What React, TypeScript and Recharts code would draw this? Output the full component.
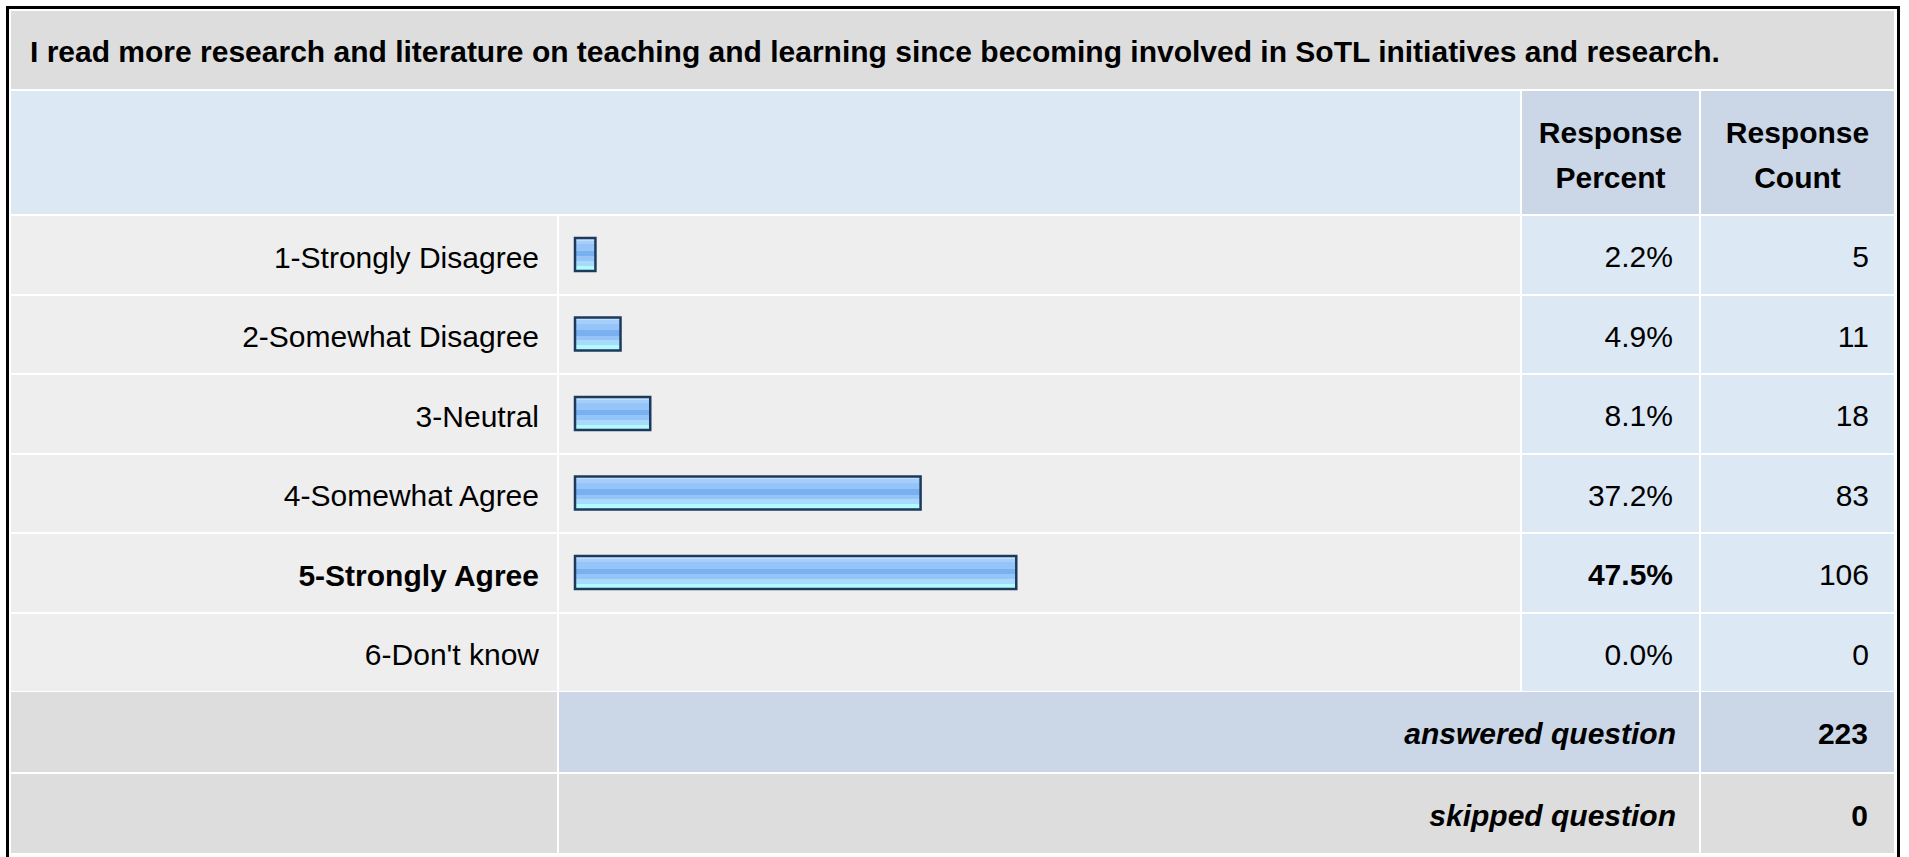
import React from 'react';
import { BarChart, Bar, XAxis, YAxis } from 'recharts';

const questionTitle =
  'I read more research and literature on teaching and learning since becoming involved in SoTL initiatives and research.';
const categories = [
  '1-Strongly Disagree',
  '2-Somewhat Disagree',
  '3-Neutral',
  '4-Somewhat Agree',
  '5-Strongly Agree',
  "6-Don't know",
];
const percents = [2.2, 4.9, 8.1, 37.2, 47.5, 0.0];
const counts = [5, 11, 18, 83, 106, 0];
const answeredCount = 223;
const skippedCount = 0;

const data = categories.map((name, i) => ({ name, percent: percents[i], count: counts[i] }));
const topIndex = percents.indexOf(Math.max(...percents));

const FONT = '"Liberation Sans", Arial, Helvetica, sans-serif';

// column edges and row geometry (px)
const COL = { c0: 11, c1: 559, c2: 1522, c3: 1701, end: 1894 };
const ROW_TOP = 216;
const ROW_STEP = 79.5;
const ROW_H = 77.5;

const GRAY = '#dddddd';
const LIGHT = '#eeeeee';
const BLUE = '#dde8f5';
const BLUE_DARK = '#cbd7e6';

function Cell({
  left,
  right,
  top,
  height,
  bg,
  children,
  align = 'right',
  pad = 24,
  bold = false,
  italic = false,
}: any) {
  return (
    <div
      style={{
        position: 'absolute',
        left,
        top,
        width: right - left,
        height,
        background: bg,
        display: 'flex',
        alignItems: 'center',
        justifyContent: align === 'right' ? 'flex-end' : align === 'center' ? 'center' : 'flex-start',
        textAlign: align,
        boxSizing: 'border-box',
        paddingRight: align === 'right' ? pad : 0,
        paddingLeft: align === 'left' ? pad : 0,
        paddingTop: 5,
        fontFamily: FONT,
        fontSize: 30,
        fontWeight: bold ? 700 : 400,
        fontStyle: italic ? 'italic' : 'normal',
        color: '#000',
        whiteSpace: 'nowrap',
      }}
    >
      {children}
    </div>
  );
}

function LabelTick(props: any) {
  const { y, payload } = props;
  const bold = payload.value === categories[topIndex];
  return (
    <text
      x={528}
      y={y + 13}
      textAnchor="end"
      fontSize={30}
      fontFamily={FONT}
      fontWeight={bold ? 700 : 400}
      fill="#000"
    >
      {payload.value}
    </text>
  );
}

export default function App() {
  const answeredTop = ROW_TOP + categories.length * ROW_STEP - 1;
  const skippedTop = answeredTop + 81.5;
  return (
    <div style={{ position: 'absolute', left: 0, top: 0, width: 1909, height: 857, overflow: 'hidden', background: '#fff' }}>
      <div
        style={{
          position: 'absolute',
          left: 6,
          top: 6,
          width: 1894,
          height: 860,
          border: '3px solid #000',
          boxSizing: 'border-box',
        }}
      />

      <Cell left={COL.c0} right={COL.end} top={11} height={77.5} bg={GRAY} align="left" pad={19} bold>
        {questionTitle}
      </Cell>

      <Cell left={COL.c0} right={COL.c2 - 2} top={90.5} height={123.5} bg={BLUE} />
      {[COL.c2, COL.c3].map((left, i) => (
        <div
          key={left}
          style={{
            position: 'absolute',
            left,
            top: 90.5,
            width: (i === 0 ? COL.c3 - 2 : COL.end) - left,
            height: 123.5,
            background: BLUE_DARK,
            display: 'flex',
            alignItems: 'center',
            justifyContent: 'center',
            textAlign: 'center',
            paddingTop: 6,
            boxSizing: 'border-box',
            fontFamily: FONT,
            fontSize: 30,
            fontWeight: 700,
            lineHeight: '45px',
          }}
        >
          <div>
            Response
            <br />
            {i === 0 ? 'Percent' : 'Count'}
          </div>
        </div>
      ))}

      {data.map((d, i) => {
        const top = ROW_TOP + i * ROW_STEP;
        const bold = i === topIndex;
        return (
          <React.Fragment key={d.name}>
            <Cell left={COL.c0} right={COL.c1 - 2} top={top} height={ROW_H} bg={LIGHT} />
            <Cell left={COL.c1} right={COL.c2 - 2} top={top} height={ROW_H} bg={LIGHT} />
            <Cell left={COL.c2} right={COL.c3 - 2} top={top} height={ROW_H} bg={BLUE} pad={26} bold={bold}>
              {d.percent.toFixed(1)}%
            </Cell>
            <Cell left={COL.c3} right={COL.end} top={top} height={ROW_H} bg={BLUE} pad={25}>
              {d.count}
            </Cell>
          </React.Fragment>
        );
      })}

      <Cell left={COL.c0} right={COL.c1 - 2} top={answeredTop} height={79.5} bg={GRAY} />
      <Cell left={COL.c1} right={COL.c3 - 2} top={answeredTop} height={79.5} bg={BLUE_DARK} pad={23} bold italic>
        answered question
      </Cell>
      <Cell left={COL.c3} right={COL.end} top={answeredTop} height={79.5} bg={BLUE_DARK} pad={26} bold>
        {answeredCount}
      </Cell>

      <Cell left={COL.c0} right={COL.c1 - 2} top={skippedTop} height={79.5} bg={GRAY} />
      <Cell left={COL.c1} right={COL.c3 - 2} top={skippedTop} height={79.5} bg={GRAY} pad={23} bold italic>
        skipped question
      </Cell>
      <Cell left={COL.c3} right={COL.end} top={skippedTop} height={79.5} bg={GRAY} pad={26} bold>
        {skippedCount}
      </Cell>

      <div style={{ position: 'absolute', left: COL.c0, top: ROW_TOP - 1, zIndex: 1 }}>
        <BarChart
          width={1493}
          height={categories.length * ROW_STEP}
          data={data}
          layout="vertical"
          margin={{ top: 0, right: 0, bottom: 0, left: 0 }}
        >
          <defs>
            <linearGradient id="barGrad" x1="0" y1="0" x2="0" y2="1">
              <stop offset="0%" stopColor="#c2defd" />
              <stop offset="8%" stopColor="#c2defd" />
              <stop offset="8%" stopColor="#a6cefb" />
              <stop offset="19%" stopColor="#a6cefb" />
              <stop offset="19%" stopColor="#94c4f8" />
              <stop offset="39%" stopColor="#94c4f8" />
              <stop offset="39%" stopColor="#79b0f0" />
              <stop offset="56%" stopColor="#79b0f0" />
              <stop offset="56%" stopColor="#94c4f8" />
              <stop offset="69%" stopColor="#94c4f8" />
              <stop offset="69%" stopColor="#a8dafc" />
              <stop offset="84%" stopColor="#a8dafc" />
              <stop offset="84%" stopColor="#b2fafd" />
              <stop offset="100%" stopColor="#b2fafd" />
            </linearGradient>
          </defs>
          <XAxis type="number" domain={[0, 100]} hide />
          <YAxis
            type="category"
            dataKey="name"
            width={564}
            axisLine={false}
            tickLine={false}
            interval={0}
            tick={<LabelTick />}
          />
          <Bar
            dataKey="percent"
            fill="url(#barGrad)"
            stroke="#1d3a5e"
            strokeWidth={2.5}
            barSize={33}
            isAnimationActive={false}
          />
        </BarChart>
      </div>
    </div>
  );
}
